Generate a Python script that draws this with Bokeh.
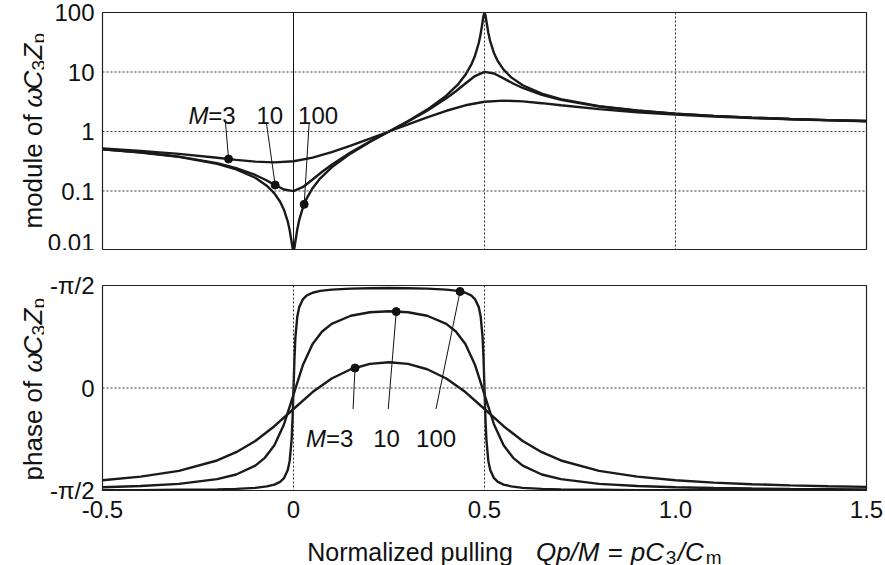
import math
import numpy as np
from bokeh.plotting import figure
from bokeh.layouts import column, row
from bokeh.models import Span, Label, FixedTicker, Range1d
from bokeh.embed import file_html
from bokeh.resources import INLINE

# ---------------- data ----------------
x_m3 = [-0.5, -0.4, -0.3, -0.2, -0.15, -0.1, -0.05, 0, 0.05, 0.1, 0.15, 0.2, 0.25, 0.3, 0.35,
        0.4, 0.45, 0.5, 0.55, 0.6, 0.65, 0.7, 0.8, 0.9, 1.0, 1.1, 1.2, 1.3, 1.4, 1.5]
mod_m3 = [0.520, 0.473, 0.420, 0.362, 0.334, 0.312, 0.303, 0.316, 0.363, 0.449, 0.578, 0.759, 1.0,
          1.318, 1.729, 2.230, 2.758, 3.162, 3.303, 3.204, 2.992, 2.764, 2.381, 2.112, 1.924,
          1.787, 1.684, 1.604, 1.540, 1.489]
ph_m3 = [-0.900, -0.865, -0.808, -0.707, -0.626, -0.517, -0.373, -0.205, -0.040, 0.093, 0.183,
         0.235, 0.251, 0.235, 0.183, 0.093, -0.040, -0.205, -0.373, -0.517, -0.626, -0.707,
         -0.808, -0.865, -0.900, -0.923, -0.939, -0.950, -0.959, -0.965]

x_m10 = [-0.5, -0.4, -0.3, -0.2, -0.15, -0.1, -0.075, -0.05, -0.025, 0, 0.025, 0.05, 0.075, 0.1,
         0.15, 0.2, 0.25, 0.3, 0.35, 0.4, 0.425, 0.45, 0.475, 0.5, 0.525, 0.55, 0.575, 0.6, 0.65,
         0.7, 0.8, 0.9, 1.0, 1.1, 1.2, 1.3, 1.4, 1.5]
mod_m10 = [0.502, 0.447, 0.379, 0.294, 0.243, 0.186, 0.156, 0.128, 0.106, 0.0995, 0.117, 0.156,
           0.211, 0.277, 0.447, 0.678, 1.0, 1.475, 2.236, 3.606, 4.747, 6.403, 8.544, 10.05,
           9.434, 7.810, 6.403, 5.385, 4.123, 3.404, 2.636, 2.236, 1.993, 1.829, 1.711, 1.623,
           1.554, 1.499]
ph_m10 = [-0.968, -0.956, -0.935, -0.889, -0.844, -0.758, -0.681, -0.558, -0.356, -0.064, 0.228,
          0.430, 0.551, 0.626, 0.705, 0.739, 0.749, 0.739, 0.705, 0.626, 0.551, 0.430, 0.228,
          -0.064, -0.356, -0.558, -0.681, -0.758, -0.844, -0.889, -0.935, -0.956, -0.968, -0.976,
          -0.981, -0.985, -0.987, -0.989]

x_m100 = [-0.5, -0.4, -0.3, -0.2, -0.15, -0.1, -0.07, -0.05, -0.035, -0.025, -0.015, -0.01,
          -0.005, -0.0025, 0, 0.0025, 0.005, 0.01, 0.015, 0.025, 0.035, 0.05, 0.07, 0.1, 0.15,
          0.2, 0.25, 0.3, 0.35, 0.4, 0.43, 0.45, 0.465, 0.475, 0.485, 0.49, 0.495, 0.4975, 0.5,
          0.5025, 0.505, 0.51, 0.515, 0.525, 0.535, 0.55, 0.57, 0.6, 0.65, 0.7, 0.8, 0.9, 1.0,
          1.1, 1.2, 1.3, 1.4, 1.5]
mod_m100 = [0.5, 0.444, 0.375, 0.286, 0.231, 0.167, 0.123, 0.0914, 0.0661, 0.0486, 0.0307,
            0.0219, 0.0140, 0.0111, 0.0100, 0.0112, 0.0143, 0.0228, 0.0326, 0.0537, 0.0760,
            0.1117, 0.1632, 0.2503, 0.4288, 0.6668, 1.0, 1.4997, 2.332, 3.995, 6.128, 8.956,
            13.15, 18.63, 30.68, 43.83, 70.01, 89.0, 100.0, 89.89, 71.42, 45.62, 32.57, 20.59,
            15.13, 10.95, 8.123, 5.993, 4.333, 3.5, 2.667, 2.25, 2.0, 1.833, 1.714, 1.625,
            1.556, 1.5]
ph_m100 = [-0.997, -0.996, -0.993, -0.989, -0.984, -0.974, -0.960, -0.942, -0.916, -0.880,
           -0.801, -0.711, -0.506, -0.302, -0.006, 0.289, 0.494, 0.698, 0.789, 0.868, 0.903,
           0.929, 0.947, 0.960, 0.970, 0.973, 0.975, 0.973, 0.970, 0.960, 0.947, 0.929, 0.903,
           0.868, 0.789, 0.698, 0.494, 0.289, -0.006, -0.302, -0.506, -0.711, -0.801, -0.880,
           -0.916, -0.942, -0.960, -0.974, -0.984, -0.989, -0.993, -0.996, -0.997, -0.998,
           -0.998, -0.998, -0.999, -0.999]

x_ticks = [-0.5, 0, 0.5, 1.0, 1.5]
x_tick_labels = ["-0.5", "0", "0.5", "1.0", "1.5"]
mod_ticks = [0.01, 0.1, 1, 10, 100]
mod_tick_labels = ["0.01", "0.1", "1", "10", "100"]
ph_ticks = [-1, 0, 1]
ph_tick_labels = ["-\u03c0/2", "0", "-\u03c0/2"]
m_names = ["3", "10", "100"]

# where the markers sit on the curves (x positions)
mark_top_x = [-0.17, -0.048, 0.028]
mark_bot_x = [0.161, 0.269, 0.436]

# ---------------- layout (canvas pixels) ----------------
FONT = "Liberation Sans"
INK = "#1a1a1a"
W, H = 885, 565
LW = 44                      # strip holding the rotated y titles
MW = W - LW                  # main figures
LEFT, FRAME_W = 57, 765
RIGHT = MW - LEFT - FRAME_W
H1, TOP1 = 250, 12
H2, TOP2, BOT2 = 280, 35, 40
HX = H - H1 - H2
PX0 = LW + LEFT              # canvas x of the frame's left edge (x = -0.5)


def xd(px):
    return -0.5 + (px - PX0) / (FRAME_W / 2.0)


def bare_fig(w, h, xr, yr, left=0, right=0):
    p = figure(width=w, height=h, output_backend="svg", toolbar_location=None,
               x_range=xr, y_range=yr, min_border=0, min_border_left=left,
               min_border_right=right, min_border_top=0, min_border_bottom=0)
    p.axis.visible = False
    p.xgrid.visible = False
    p.ygrid.visible = False
    p.outline_line_color = None
    p.background_fill_color = "white"
    p.border_fill_color = "white"
    return p


def make_fig(h, top, bottom, yr, ylog=False):
    kw = dict(width=MW, height=h, output_backend="svg", toolbar_location=None,
              x_range=Range1d(-0.5, 1.5), y_range=yr,
              min_border_left=LEFT, min_border_right=RIGHT,
              min_border_top=top, min_border_bottom=bottom)
    if ylog:
        kw["y_axis_type"] = "log"
    p = figure(**kw)
    p.xgrid.visible = False
    p.ygrid.visible = False
    p.outline_line_color = "#222222"
    p.outline_line_width = 1.2
    p.background_fill_color = "white"
    p.border_fill_color = "white"
    for ax in p.axis:
        ax.major_tick_line_color = None
        ax.minor_tick_line_color = None
        ax.minor_tick_out = 0
        ax.minor_tick_in = 0
        ax.axis_line_color = None
        ax.major_label_text_font = FONT
        ax.major_label_text_font_size = "24px"
        ax.major_label_text_color = "#111111"
    for ax in p.yaxis:
        ax.major_tick_out = 0
        ax.major_tick_in = 0
        ax.major_label_standoff = 8
    for ax in p.xaxis:
        ax.major_tick_out = 6
        ax.major_tick_in = 0
        ax.major_label_standoff = 4
    return p


def lab(p, x, y, text, size=24, italic=False, angle=0.0, align="left", baseline="alphabetic"):
    p.add_layout(Label(x=x, y=y, text=text, angle=angle, text_font=FONT,
                       text_font_size=f"{size}px",
                       text_font_style="italic" if italic else "normal",
                       text_color="#111111", text_align=align, text_baseline=baseline))


# ---------------- top panel: module ----------------
p1 = make_fig(H1, TOP1, 0, Range1d(0.01, 100), ylog=True)
p1.xaxis.visible = False
p1.yaxis.ticker = FixedTicker(ticks=mod_ticks)
p1.yaxis.major_label_overrides = {t: s for t, s in zip(mod_ticks, mod_tick_labels)}

for v in [10, 1, 0.1]:
    p1.add_layout(Span(location=v, dimension="width", line_color="#333333",
                       line_dash="2 2", line_width=1))
for v in [0.5, 1.0]:
    p1.add_layout(Span(location=v, dimension="height", line_color="#333333",
                       line_dash="2 2", line_width=1))
p1.add_layout(Span(location=0, dimension="height", line_color="#111111", line_width=1))

top_curves = [(x_m3, mod_m3), (x_m10, mod_m10), (x_m100, mod_m100)]
for xs, ys in top_curves:
    p1.line(xs, ys, line_width=2.4, line_color=INK)

mty = [10 ** np.interp(mx, xs, np.log10(ys)) for mx, (xs, ys) in zip(mark_top_x, top_curves)]
lead_top_x = [-0.178, -0.071, 0.041]
lead_top_y = [1.41, 1.41, 1.41]
p1.segment(x0=mark_top_x, y0=mty, x1=lead_top_x, y1=lead_top_y, line_color="#111111", line_width=1)
p1.scatter(mark_top_x, mty, size=8, color="#111111")
lab(p1, -0.275, 1.85, "M", italic=True)
lab(p1, -0.223, 1.85, "=" + m_names[0])
lab(p1, -0.097, 1.85, m_names[1])
lab(p1, 0.012, 1.85, m_names[2])

# ---------------- bottom panel: phase ----------------
p2 = make_fig(H2, TOP2, BOT2, Range1d(-1, 1))
p2.yaxis.ticker = FixedTicker(ticks=ph_ticks)
p2.yaxis.major_label_overrides = {t: s for t, s in zip(ph_ticks, ph_tick_labels)}
p2.xaxis.ticker = FixedTicker(ticks=x_ticks)
p2.xaxis.major_label_overrides = {t: s for t, s in zip(x_ticks, x_tick_labels)}

p2.add_layout(Span(location=0, dimension="width", line_color="#333333",
                   line_dash="2 2", line_width=1))
for v in [0, 0.5]:
    p2.add_layout(Span(location=v, dimension="height", line_color="#333333",
                       line_dash="2 2", line_width=1))

bot_curves = [(x_m3, ph_m3), (x_m10, ph_m10), (x_m100, ph_m100)]
for xs, ys in bot_curves:
    p2.line(xs, ys, line_width=2.4, line_color=INK)

mby = [float(np.interp(mx, xs, ys)) for mx, (xs, ys) in zip(mark_bot_x, bot_curves)]
lead_bot_x = [0.156, 0.248, 0.373]
lead_bot_y = [-0.205, -0.205, -0.205]
p2.segment(x0=mark_bot_x, y0=mby, x1=lead_bot_x, y1=lead_bot_y, line_color="#111111", line_width=1)
p2.scatter(mark_bot_x, mby, size=8, color="#111111")
lab(p2, 0.033, -0.49, "M", italic=True)
lab(p2, 0.085, -0.49, "=" + m_names[0])
lab(p2, 0.2085, -0.49, m_names[1])
lab(p2, 0.321, -0.49, m_names[2])

# ---------------- x axis title strip (y measured down from its top) ----------------
px_ = bare_fig(MW, HX, Range1d(-0.5, 1.5), Range1d(HX, 0), left=LEFT, right=RIGHT)
X_TOP = H1 + H2
by = 551 - X_TOP
sby = 557 - X_TOP
lab(px_, xd(306), by, "Normalized pulling", size=25)
lab(px_, xd(535), by, "Qp/M", size=26, italic=True)
lab(px_, xd(607), by, "=", size=26)
lab(px_, xd(630), by, "pC", size=26, italic=True)
lab(px_, xd(665), sby, "3", size=19)
lab(px_, xd(677), by, "/C", size=26, italic=True)
lab(px_, xd(705), sby, "m", size=19)

# ---------------- y titles strip (pixel coordinates, y down) ----------------
pl = bare_fig(LW, H, Range1d(0, LW), Range1d(H, 0))
bx, sx = 32, 38
R = math.pi / 2
lab(pl, bx, 228, "module of", size=26, angle=R)
lab(pl, bx, 107, "\u03c9", size=26, italic=True, angle=R)
lab(pl, bx, 89, "C", size=26, italic=True, angle=R)
lab(pl, sx, 70, "3", size=19, angle=R)
lab(pl, bx, 59, "Z", size=26, italic=True, angle=R)
lab(pl, sx, 43, "p", size=19, angle=R)

lab(pl, bx, 480, "phase of", size=26, angle=R)
lab(pl, bx, 372, "\u03c9", size=26, italic=True, angle=R)
lab(pl, bx, 354, "C", size=26, italic=True, angle=R)
lab(pl, sx, 335, "3", size=19, angle=R)
lab(pl, bx, 324, "Z", size=26, italic=True, angle=R)
lab(pl, sx, 308, "p", size=19, angle=R)

layout = row(pl, column(p1, p2, px_))
open("out.html", "w").write(file_html(layout, INLINE))
